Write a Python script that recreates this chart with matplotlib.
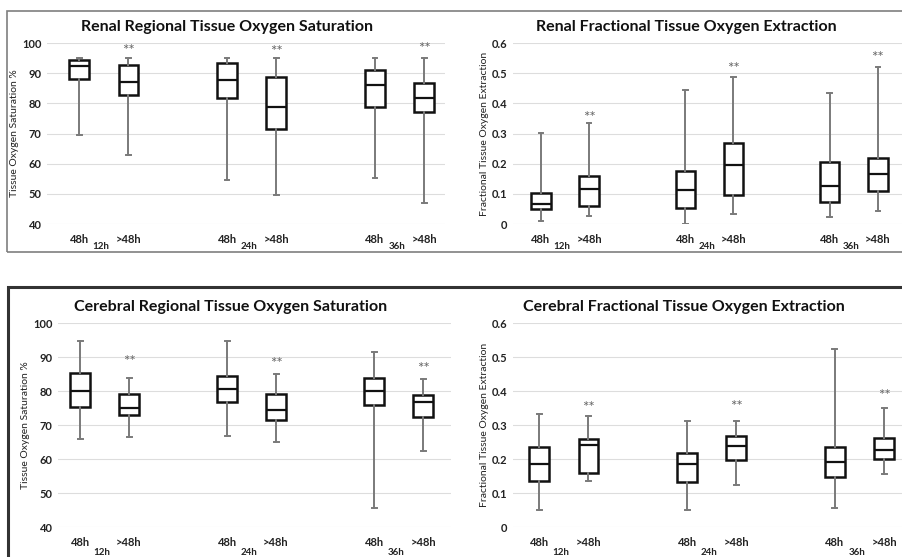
#!/usr/bin/env python3
"""Four box-plot panels: renal / cerebral rSO2 and FTOE at 12h, 24h, 36h."""
import matplotlib
matplotlib.use("Agg")
import matplotlib.pyplot as plt
from matplotlib.patches import Rectangle

plt.rcParams["font.family"] = ["Lato", "DejaVu Sans"]

groups = ["12h", "24h", "36h"]
tick_labels = ["48h", ">48h"] * 3

# per box: (whisker low, q1, median, q3, whisker high), order 12h-48h, 12h->48h, 24h-48h, ...
renal_sat = [(69.4, 88.1, 92.5, 94.5, 94.9), (62.9, 82.7, 87.1, 92.7, 95.0),
             (54.5, 81.7, 87.7, 93.4, 95.0), (49.7, 71.6, 78.7, 88.8, 95.0),
             (55.2, 78.7, 86.1, 91.2, 95.0), (47.0, 77.0, 81.8, 86.7, 95.0)]
renal_ftoe = [(0.009, 0.051, 0.066, 0.103, 0.302), (0.028, 0.061, 0.116, 0.158, 0.335),
              (0.0, 0.053, 0.112, 0.175, 0.445), (0.033, 0.096, 0.194, 0.268, 0.486),
              (0.023, 0.073, 0.127, 0.207, 0.435), (0.042, 0.110, 0.167, 0.219, 0.520)]
cereb_sat = [(65.9, 75.3, 79.9, 85.3, 94.6), (66.4, 73.0, 74.9, 79.1, 83.9),
             (66.9, 76.8, 80.6, 84.5, 94.7), (65.0, 71.4, 74.5, 79.2, 84.9),
             (45.6, 75.9, 79.9, 83.8, 91.6), (62.5, 72.3, 76.8, 78.9, 83.5)]
cereb_ftoe = [(0.051, 0.136, 0.186, 0.234, 0.331), (0.136, 0.159, 0.242, 0.258, 0.327),
              (0.049, 0.132, 0.186, 0.218, 0.313), (0.124, 0.197, 0.239, 0.268, 0.313),
              (0.055, 0.148, 0.192, 0.234, 0.524), (0.157, 0.200, 0.226, 0.262, 0.349)]

# "**" marks above the >48h boxes
renal_sat_star = [97.2, 97.0, 98.0]
renal_ftoe_star = [0.352, 0.515, 0.549]
cereb_sat_star = [88.4, 87.9, 86.4]
cereb_ftoe_star = [0.350, 0.352, 0.384]

titles = ["Renal Regional Tissue Oxygen Saturation",
          "Renal Fractional Tissue Oxygen Extraction",
          "Cerebral Regional Tissue Oxygen Saturation",
          "Cerebral Fractional Tissue Oxygen Extraction"]
ylabels = ["Tissue Oxygen Saturation %", "Fractional Tissue Oxygen Extraction"] * 2

W, H = 902, 557
fig = plt.figure(figsize=(W / 100, H / 100), dpi=100)
fig.patch.set_facecolor("white")

# panel rectangles in pixels: left, right, y of top gridline, y of bottom gridline
boxes_px = [(47, 445, 43, 224), (513, 902, 43, 224), (58, 451, 323, 527), (513, 902, 323, 527)]
xlims = [(-0.65, 7.42), (-0.58, 7.5), (-0.45, 7.57), (-0.53, 7.36)]
title_x = [0.452, 0.445, 0.438, 0.44]
datasets = [renal_sat, renal_ftoe, cereb_sat, cereb_ftoe]
stars = [renal_sat_star, renal_ftoe_star, cereb_sat_star, cereb_ftoe_star]
slots = [0, 1, 3, 4, 6, 7]

for k in range(4):
    l, r, t, b = boxes_px[k]
    ax = fig.add_axes([l / W, 1 - b / H, (r - l) / W, (b - t) / H])
    sat = k % 2 == 0
    stats = [dict(whislo=d[0], q1=d[1], med=d[2], q3=d[3], whishi=d[4], fliers=[])
             for d in datasets[k]]
    ax.bxp(stats, positions=slots, widths=0.4, capwidths=0.1, showfliers=False,
           patch_artist=True,
           boxprops=dict(facecolor="white", edgecolor="#111111", lw=1.8),
           medianprops=dict(color="#111111", lw=1.6),
           whiskerprops=dict(color="#7a7a7a", lw=1.4),
           capprops=dict(color="#7a7a7a", lw=1.4))
    for i, s in enumerate(stars[k]):
        ax.text(slots[2 * i + 1], s, "**", ha="center", va="center",
                fontsize=11, color="#666666")
    if sat:
        ax.set_ylim(40, 100)
        ax.set_yticks(range(40, 101, 10))
    else:
        ax.set_ylim(0, 0.6)
        ax.set_yticks([0, 0.1, 0.2, 0.3, 0.4, 0.5, 0.6])
        ax.set_yticklabels(["0", "0.1", "0.2", "0.3", "0.4", "0.5", "0.6"])
    ax.set_xlim(*xlims[k])
    ax.set_xticks(slots)
    ax.set_xticklabels(tick_labels, fontsize=8, fontweight="bold", color="#222222")
    ax.tick_params(axis="x", length=0, pad=7)
    ax.tick_params(axis="y", length=0, pad=4, labelsize=8, labelcolor="#222222")
    for lab in ax.get_yticklabels():
        lab.set_fontweight("bold")
    ax.grid(axis="y", color="#dddddd", lw=0.8)
    ax.set_axisbelow(True)
    for s in ax.spines.values():
        s.set_visible(False)
    ax.patch.set_alpha(0)
    for i, g in enumerate(groups):
        ax.text(3 * i + 0.44, -0.125, g, transform=ax.get_xaxis_transform(),
                ha="center", va="center", fontsize=7, fontweight="bold", color="#222222")
    ax.set_ylabel(ylabels[k], fontsize=7.5, color="#222222", labelpad=2)
    ax.set_title(titles[k], fontsize=11.5, fontweight="bold", color="#111111", pad=9,
                 x=title_x[k])

# panel frames as in the source figure
fig.add_artist(Rectangle((7 / W, 1 - 252 / H), (W + 5 - 7) / W, (252 - 11) / H,
                         transform=fig.transFigure, fill=False, ec="#7f7f7f", lw=1.2))
fig.add_artist(Rectangle((8 / W, -0.05), (W + 5 - 8) / W, 1 - 287 / H + 0.05,
                         transform=fig.transFigure, fill=False, ec="#333333", lw=2.2))

fig.savefig("out.png", dpi=100, facecolor="white")
